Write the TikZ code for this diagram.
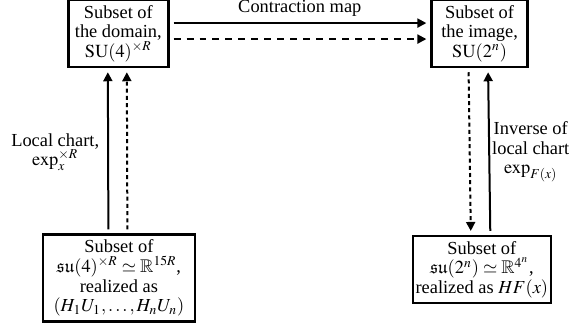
\documentclass[tikz,border=0pt]{standalone}
\usepackage{mathptmx}
\usepackage{amssymb}
\usepackage[no-math]{fontspec}
\setmainfont{Liberation Serif}
\usetikzlibrary{arrows.meta}

\begin{document}
\begin{tikzpicture}[>={Triangle[length=4.5pt,width=4.5pt]},shorten >=2pt,shorten <=2pt,line width=1pt]
\tikzstyle{box}=[draw,line width=1.2pt,inner sep=0pt,align=center,font=\fontsize{9.2pt}{9.8pt}\selectfont]
\tikzstyle{lbl}=[inner sep=0pt,align=center,font=\fontsize{9.2pt}{9.8pt}\selectfont]
\tikzstyle{hdash}=[dash pattern=on 3.5pt off 3pt]
\tikzstyle{vdash}=[dash pattern=on 2pt off 1.6pt]

\useasboundingbox (0,0) rectangle (10.09,-5.75);

\node[box,minimum width=50pt,minimum height=33.5pt] (dom) at (2.08,-0.59) {Subset of\\ the domain,\\ $\mathrm{SU}(4)^{\times R}$};
\node[box,minimum width=48pt,minimum height=33.5pt] (img) at (8.43,-0.59) {Subset of\\ the image,\\ $\mathrm{SU}(2^n)$};
\node[box,minimum width=76pt,minimum height=43.5pt] (alg) at (2.09,-4.89) {Subset of\\ $\mathfrak{su}(4)^{\times R}\simeq\mathbb{R}^{15R}$,\\ realized as\\ $(H_1U_1,\dots,H_nU_n)$};
\node[box,minimum width=69pt,minimum height=33.5pt] (algimg) at (8.47,-4.74) {Subset of\\ $\mathfrak{su}(2^n)\simeq\mathbb{R}^{4^n}$,\\ realized as $HF(x)$};

\node[lbl] (contr) at (5.27,-0.14) {Contraction map};
\node[lbl] (chart) at (0.97,-2.67) {Local chart,\\ $\exp_x^{\times R}$};
\node[lbl] (inv) at (9.33,-2.67) {Inverse of\\ local chart\\ $\exp_{F(x)}$};

\draw[->] ([yshift=5.25pt]dom.east) -- ([yshift=5.25pt]img.west);
\draw[->,hdash] ([yshift=-2.75pt]dom.east) -- ([yshift=-2.75pt]img.west);
\draw[->] ([xshift=-5.25pt]alg.north) -- ([xshift=-5.25pt]dom.south);
\draw[->,vdash] ([xshift=4.25pt]alg.north) -- ([xshift=4.25pt]dom.south);
\draw[->,vdash] ([xshift=-5.5pt]img.south) -- ([xshift=-5.5pt]algimg.north);
\draw[->] ([xshift=4.25pt]algimg.north) -- ([xshift=4.25pt]img.south);
\end{tikzpicture}
\end{document}
